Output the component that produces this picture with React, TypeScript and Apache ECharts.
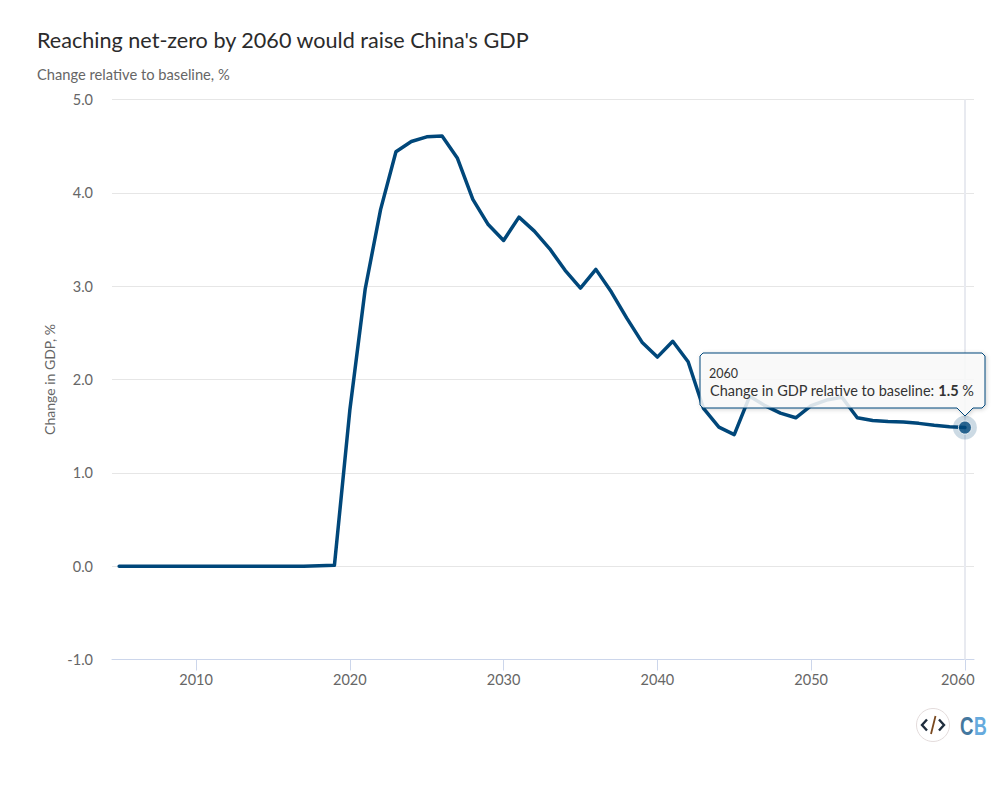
import React, { useEffect, useRef } from "react";
import * as echarts from "echarts";

const FONT = "Lato";
const titleText = "Reaching net-zero by 2060 would raise China's GDP";
const subtitleText = "Change relative to baseline, %";
const yAxisName = "Change in GDP, %";
const years = [2005,2006,2007,2008,2009,2010,2011,2012,2013,2014,2015,2016,2017,2018,2019,2020,2021,2022,2023,2024,2025,2026,2027,2028,2029,2030,2031,2032,2033,2034,2035,2036,2037,2038,2039,2040,2041,2042,2043,2044,2045,2046,2047,2048,2049,2050,2051,2052,2053,2054,2055,2056,2057,2058,2059,2060];
const gdpChange = [0,0,0,0,0,0,0,0,0,0,0,0,0,0.005,0.01,1.67,2.97,3.82,4.44,4.55,4.6,4.61,4.37,3.93,3.66,3.49,3.74,3.59,3.4,3.17,2.98,3.18,2.94,2.66,2.4,2.24,2.41,2.19,1.69,1.49,1.41,1.82,1.72,1.64,1.59,1.72,1.78,1.81,1.59,1.56,1.55,1.545,1.53,1.51,1.495,1.485];
const xTicks = [2010,2020,2030,2040,2050,2060];
const tooltipYear = "2060";
const tooltipLabel = "Change in GDP relative to baseline: ";
const tooltipValue = "1.5";

const NAVY = "#00477a";

export default function App() {
  const ref = useRef<HTMLDivElement>(null);
  useEffect(() => {
    document.body.style.margin = "0";
    const chart = echarts.init(ref.current!, null, { renderer: "svg" });
    const points = years.map((y, i) => [y, gdpChange[i]]);
    const last = points[points.length - 1];
    chart.setOption({
      animation: false,
      backgroundColor: "#ffffff",
      textStyle: { fontFamily: FONT },
      title: {
        text: titleText,
        subtext: subtitleText,
        left: 37,
        top: 29,
        padding: 0,
        itemGap: 15,
        textStyle: { fontFamily: FONT, fontSize: 21.6, fontWeight: "normal", color: "#2b2b2b" },
        subtextStyle: { fontFamily: FONT, fontSize: 14.7, color: "#666666" },
      },
      grid: { left: 112, top: 99.5, width: 862, height: 560, containLabel: false },
      xAxis: {
        type: "value",
        min: 2004.535,
        max: 2060.59,
        splitLine: { show: false },
        axisLine: { show: true, onZero: false, lineStyle: { color: "#ccd6eb", width: 1 } },
        axisTick: { show: true, length: 11, lineStyle: { color: "#ccd6eb" }, customValues: xTicks },
        axisLabel: {
          color: "#666666",
          fontFamily: FONT,
          fontSize: 14.5,
          margin: 12,
          customValues: xTicks,
          formatter: (v: number) => (v === 2060 ? "{shifted|" + v + "}" : String(v)),
          rich: {
            shifted: { color: "#666666", fontFamily: FONT, fontSize: 14.5, padding: [0, 14, 0, 0] },
          },
        },
      },
      yAxis: {
        type: "value",
        min: -1,
        max: 5,
        interval: 1,
        name: yAxisName,
        nameLocation: "middle",
        nameGap: 55,
        nameTextStyle: { color: "#666666", fontFamily: FONT, fontSize: 14 },
        axisLine: { show: false },
        axisTick: { show: false },
        splitLine: { lineStyle: { color: "#e6e6e6", width: 1 } },
        axisLabel: {
          color: "#666666",
          fontFamily: FONT,
          fontSize: 14.5,
          margin: 19,
          formatter: (v: number) => v.toFixed(1),
        },
      },
      series: [
        {
          type: "line",
          data: points,
          showSymbol: false,
          symbol: "none",
          z: 3,
          lineStyle: { color: NAVY, width: 3.5, cap: "round", join: "round" },
          markLine: {
            silent: true,
            symbol: "none",
            label: { show: false },
            lineStyle: { color: "#e8eaf0", width: 2, type: "solid" },
            z: 1,
            data: [{ xAxis: last[0] }],
          },
        },
        {
          type: "scatter",
          data: [last],
          symbolSize: 24,
          z: 4,
          itemStyle: { color: "rgba(0,71,122,0.25)" },
          silent: true,
        },
        {
          type: "scatter",
          data: [last],
          symbolSize: 13,
          z: 5,
          itemStyle: { color: NAVY, borderColor: "#ffffff", borderWidth: 1 },
          silent: true,
        },
      ],
      graphic: [
        {
          type: "polygon",
          z: 100,
          shape: {
            points: [[703, 353], [982, 353], [985, 356], [985, 405], [982, 408], [973, 408], [965, 416], [957, 408], [703, 408], [700, 405], [700, 356]],
          },
          style: {
            fill: "rgba(252,252,252,0.85)",
            stroke: NAVY,
            lineWidth: 1,
            shadowBlur: 4,
            shadowColor: "rgba(0,0,0,0.2)",
            shadowOffsetX: 1,
            shadowOffsetY: 1,
          },
        },
        {
          type: "text",
          z: 101,
          x: 709,
          y: 367,
          style: { text: tooltipYear, fontFamily: FONT, fontSize: 12.5, fill: "#333333" },
        },
        {
          type: "text",
          z: 101,
          x: 710,
          y: 383,
          style: {
            text: "{a|" + tooltipLabel + "}{b|" + tooltipValue + "}{a| %}",
            rich: {
              a: { fontFamily: FONT, fontSize: 14.5, fill: "#333333", color: "#333333" },
              b: { fontFamily: FONT, fontSize: 14.5, fontWeight: "bold", fill: "#333333", color: "#333333" },
            },
          },
        },
        { type: "circle", z: 10, shape: { cx: 933, cy: 725, r: 16.5 }, style: { fill: "#ffffff", stroke: "#e4dcdc", lineWidth: 1 } },
        { type: "polyline", z: 11, shape: { points: [[927, 719.5], [922, 725], [927, 730.5]] }, style: { fill: "none", stroke: "#1f2d3d", lineWidth: 2.4 } },
        { type: "polyline", z: 11, shape: { points: [[939, 719.5], [944, 725], [939, 730.5]] }, style: { fill: "none", stroke: "#1f2d3d", lineWidth: 2.4 } },
        { type: "line", z: 11, shape: { x1: 935.5, y1: 716, x2: 931, y2: 734 }, style: { stroke: "#7a4a20", lineWidth: 1.8 } },
        { type: "text", z: 11, x: 960, y: 713, scaleX: 0.72, style: { text: "C", fontFamily: "Liberation Sans", fontWeight: "bold", fontSize: 26, fill: "#44789f" } },
        { type: "text", z: 11, x: 974, y: 713, scaleX: 0.68, style: { text: "B", fontFamily: "Liberation Sans", fontWeight: "bold", fontSize: 26, fill: "#66aadd" } },
      ],
    });
    return () => chart.dispose();
  }, []);
  return <div ref={ref} style={{ width: 1007, height: 787, position: "absolute", left: 0, top: 0 }} />;
}
